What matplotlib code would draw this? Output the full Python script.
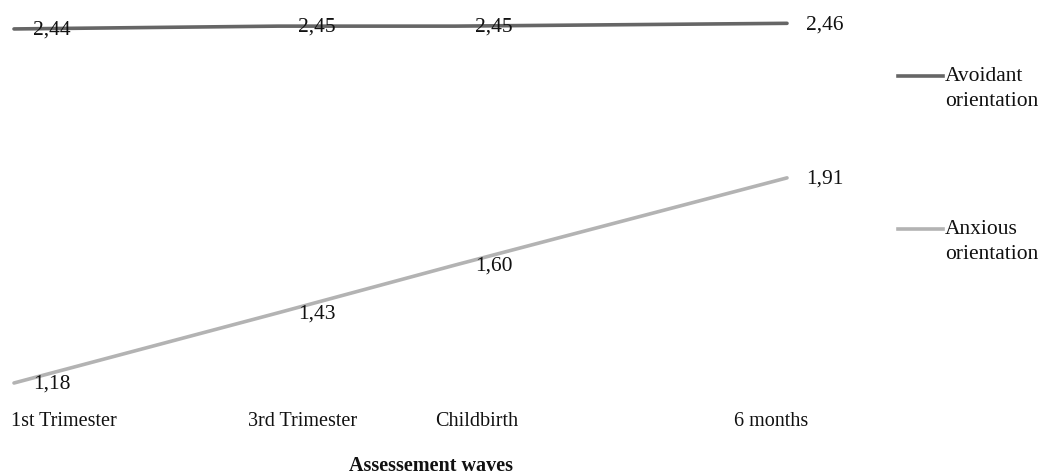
import matplotlib
matplotlib.use("Agg")
import matplotlib.pyplot as plt
from matplotlib.lines import Line2D

plt.rcParams["font.family"] = ["Liberation Serif", "DejaVu Serif"]

# Assessment waves and mean scores per attachment orientation
waves = ["1st Trimester", "3rd Trimester", "Childbirth", "6 months"]
avoidant = [2.44, 2.45, 2.45, 2.46]
anxious = [1.18, 1.43, 1.60, 1.91]
series_names = ["Avoidant\norientation", "Anxious\norientation"]

# Horizontal placement of the waves along the time axis (0 = first, 1 = last)
wave_x = [0.0, 0.342, 0.571, 1.0]
# Centres of the wave captions beneath the plot
caption_x = [0.065, 0.373, 0.599, 0.979]

DARK = "#666666"
LIGHT = "#b3b3b3"

W, H = 1047, 476
fig = plt.figure(figsize=(W / 100, H / 100), dpi=100)
ax = fig.add_axes([0, 0, 1, 1])
ax.set_axis_off()

# Pixel layout: first wave at x=14, last at x=787; value 1.18 at y=383, 282 px per unit
x0, x1 = 14, 787
span = x1 - x0
ax.set_xlim(-x0 / span, (W - x0) / span)
ppu = 281.0
ax.set_ylim(1.18 - (H - 383) / ppu, 1.18 + 383 / ppu)

for vals, col in ((avoidant, DARK), (anxious, LIGHT)):
    ax.plot(wave_x, vals, color=col, lw=2.6, solid_capstyle="round")
    for x, v in zip(wave_x, vals):
        ax.annotate(f"{v:.2f}".replace(".", ","), (x, v), xytext=(14, -1),
                    textcoords="offset points", ha="left", va="center",
                    fontsize=15.5, color="#111111")

# Wave captions
cap_y = 1.18 - (421 - 383) / ppu
for x, name in zip(caption_x, waves):
    ax.text(x, cap_y, name, ha="center", va="center", fontsize=14.5,
            color="#111111")

ax.text(431 / W, 1 - 466 / H, "Assessement waves", transform=ax.transAxes,
        ha="center", va="center", fontsize=14.5, fontweight="bold",
        color="#111111")

# Legend on the right
for name, col, ly in zip(series_names, (DARK, LIGHT), (76, 229)):
    yf = 1 - ly / H
    fig.add_artist(Line2D([898 / W, 943 / W], [yf, yf], color=col, lw=2.6,
                          transform=fig.transFigure))
    ax.text(945 / W, yf + 9 / H, name, transform=ax.transAxes, ha="left",
            va="top", fontsize=15.5, color="#111111", linespacing=1.45)

fig.savefig("out.png", dpi=100)
